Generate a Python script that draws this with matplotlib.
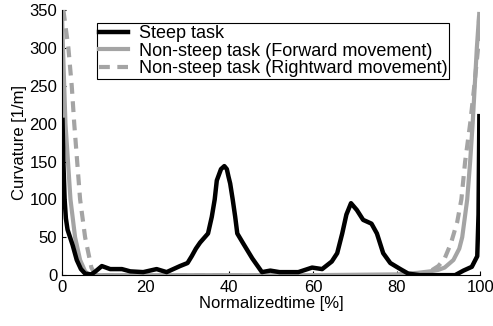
import matplotlib
matplotlib.use("Agg")
import matplotlib.pyplot as plt

plt.rcParams['font.family'] = ['Liberation Sans', 'DejaVu Sans']

# Steep task (black)
steep_x = [0.1, 0.3, 0.6, 0.9, 1.3, 1.9, 2.5, 3.5, 4.5, 5.5, 7, 8, 9.5, 11.5, 14.3, 16.3, 19.4, 22.6,
           25, 28.2, 30, 31, 32, 33, 34.9, 35.8, 36.5, 37, 38, 38.8, 39.4, 39.8, 40.2, 40.8, 41.4,
           41.9, 43.3, 45.5, 47.8, 49.8, 52, 56.5, 59.8, 62.2, 64.5, 65.8, 67, 68, 69.1, 70.5,
           72, 74, 75.3, 76.8, 78.5, 80.9, 82.8, 85.5, 90, 94, 96, 98, 99.3, 99.6, 99.8]
steep_y = [205, 150, 100, 75, 60, 50, 40, 20, 8, 2, 1, 5, 12, 8, 8, 5, 4, 8,
           4, 12, 16, 25, 35, 43, 55, 77, 100, 125, 140, 144, 140, 130, 121, 100, 77,
           55, 42, 22, 4, 6, 4, 4, 10, 8, 18, 29, 55, 80, 95, 86,
           73, 68, 55, 29, 16, 8, 2, 0, 0, 0, 6, 11, 25, 80, 210]

# Non-steep task, forward movement (gray solid)
fwd_x = [0, 0.2, 0.8, 2, 3.1, 4.3, 5.5, 6.5, 8, 20, 40, 60, 80, 85, 88, 90, 91.5, 93.6, 95,
         95.7, 96.9, 97.6, 98.2, 98.7, 99.2, 99.7]
fwd_y = [340, 300, 200, 100, 50, 20, 5, 0, 0, 0, 0, 0, 1, 3, 5, 7, 10, 20, 35,
         50, 100, 150, 200, 250, 300, 340]

# Non-steep task, rightward movement (gray dashed)
right_x = [0.3, 1.5, 2.3, 2.9, 3.6, 4.3, 5.5, 7, 8, 20, 40, 60, 80, 85, 88, 90, 91.5, 93,
           94.5, 95.5, 96.4, 97.6, 98.6, 99.5, 99.8]
right_y = [350, 300, 250, 200, 150, 100, 50, 10, 0, 0, 0, 0, 0, 1, 5, 12, 22, 42,
           70, 100, 150, 200, 250, 300, 350]

fig = plt.figure(figsize=(4.93, 3.26), dpi=100)
ax = fig.add_axes([0.126, 0.156, 0.848, 0.813])

ax.plot(fwd_x, fwd_y, color='#a4a4a4', lw=3.0, label='Non-steep task (Forward movement)', zorder=2)
ax.plot(right_x, right_y, color='#a4a4a4', lw=3.0, dashes=(2.6, 1.8),
        label='Non-steep task (Rightward movement)', zorder=2)
ax.plot(steep_x, steep_y, color='black', lw=3.2, solid_joinstyle='round',
        label='Steep task', zorder=3)

ax.set_xlim(0, 100)
ax.set_ylim(0, 350)
ax.set_xticks([0, 20, 40, 60, 80, 100])
ax.set_yticks(range(0, 351, 50))
ax.tick_params(labelsize=12, direction='in', length=3)
ax.spines['top'].set_visible(False)
ax.spines['right'].set_visible(False)
ax.set_xlabel('Normalizedtime [%]', fontsize=12, labelpad=1)
ax.set_ylabel('Curvature [1/m]', fontsize=12, labelpad=2)

handles, labels = ax.get_legend_handles_labels()
order = [2, 0, 1]
leg = ax.legend([handles[i] for i in order], [labels[i] for i in order],
                loc='upper left', bbox_to_anchor=(0.084, 0.95), fontsize=13, frameon=True,
                fancybox=False, edgecolor='black', framealpha=1, handlelength=1.6,
                borderpad=0.1, labelspacing=0.02, handletextpad=0.6, borderaxespad=0)
leg.get_frame().set_linewidth(0.8)

fig.savefig('out.png', dpi=100)
